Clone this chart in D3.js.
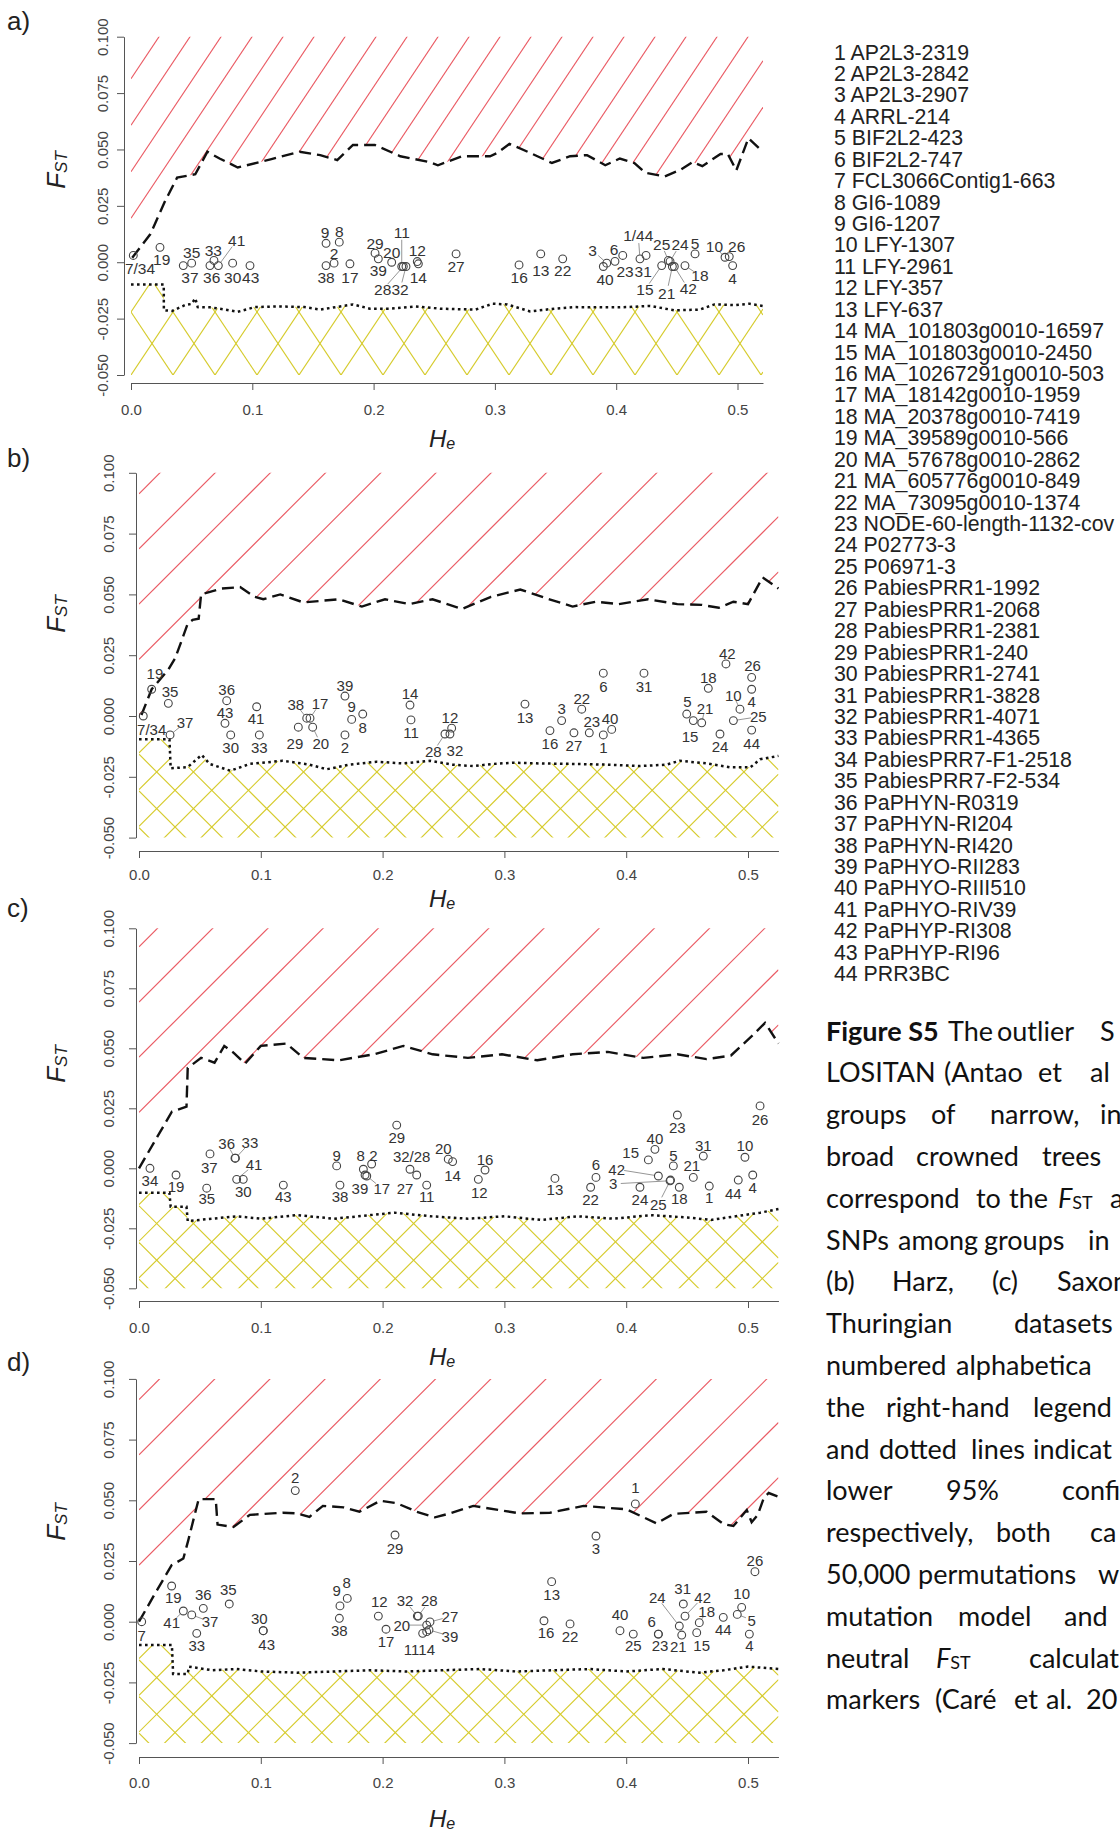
<!DOCTYPE html>
<html>
<head>
<meta charset="utf-8">
<script src="https://cdn.jsdelivr.net/npm/d3@7"></script>
<style>
  body { margin: 0; background: #fff; }
  svg { display: block; }
</style>
</head>
<body>
<svg id="fig" width="1120" height="1833"></svg>
<script>
// ---------- data ----------
const markerNames = [
  "AP2L3-2319","AP2L3-2842","AP2L3-2907","ARRL-214","BIF2L2-423","BIF2L2-747",
  "FCL3066Contig1-663","GI6-1089","GI6-1207","LFY-1307","LFY-2961","LFY-357","LFY-637",
  "MA_101803g0010-16597","MA_101803g0010-2450","MA_10267291g0010-503","MA_18142g0010-1959",
  "MA_20378g0010-7419","MA_39589g0010-566","MA_57678g0010-2862","MA_605776g0010-849",
  "MA_73095g0010-1374","NODE-60-length-1132-cov","P02773-3","P06971-3","PabiesPRR1-1992",
  "PabiesPRR1-2068","PabiesPRR1-2381","PabiesPRR1-240","PabiesPRR1-2741","PabiesPRR1-3828",
  "PabiesPRR1-4071","PabiesPRR1-4365","PabiesPRR7-F1-2518","PabiesPRR7-F2-534","PaPHYN-R0319",
  "PaPHYN-RI204","PaPHYN-RI420","PaPHYO-RII283","PaPHYO-RIII510","PaPHYO-RIV39",
  "PaPHYP-RI308","PaPHYP-RI96","PRR3BC"
];

const fstTicks = [0.100, 0.075, 0.050, 0.025, 0.000, -0.025, -0.050];
const heTicks = [0.0, 0.1, 0.2, 0.3, 0.4, 0.5];

// upper (dashed) and lower (dotted) 95% quantile curves: [He, Fst]
const upperA = [[0.001,0.002],[0.016,0.0125],[0.028,0.027],[0.038,0.0375],[0.053,0.039],[0.063,0.049],[0.073,0.046],[0.088,0.042],[0.115,0.0456],[0.139,0.049],[0.156,0.0475],[0.170,0.0453],[0.183,0.052],[0.201,0.052],[0.222,0.047],[0.246,0.0444],[0.253,0.043],[0.273,0.047],[0.296,0.047],[0.302,0.0485],[0.312,0.0525],[0.329,0.0485],[0.347,0.044],[0.362,0.047],[0.376,0.0475],[0.391,0.043],[0.403,0.046],[0.415,0.044],[0.424,0.0397],[0.440,0.038],[0.453,0.041],[0.463,0.0444],[0.471,0.0426],[0.486,0.048],[0.492,0.048],[0.499,0.0407],[0.509,0.055],[0.521,0.049]];
const lowerA = [[0,-0.0099],[0.027,-0.0099],[0.0271,-0.0213],[0.034,-0.0216],[0.0445,-0.019],[0.050,-0.0185],[0.053,-0.016],[0.055,-0.0199],[0.065,-0.020],[0.073,-0.0206],[0.088,-0.022],[0.102,-0.0199],[0.123,-0.0196],[0.143,-0.0199],[0.156,-0.021],[0.183,-0.0187],[0.197,-0.0206],[0.214,-0.0206],[0.234,-0.0196],[0.255,-0.0206],[0.284,-0.021],[0.298,-0.0184],[0.310,-0.0187],[0.329,-0.0218],[0.349,-0.0206],[0.366,-0.0199],[0.387,-0.020],[0.403,-0.020],[0.428,-0.0194],[0.448,-0.0213],[0.469,-0.021],[0.481,-0.0187],[0.498,-0.019],[0.510,-0.0184],[0.521,-0.0194]];

const upperB = [[0.002,0.0004],[0.0104,0.011],[0.024,0.019],[0.0296,0.0237],[0.035,0.031],[0.040,0.038],[0.044,0.0395],[0.049,0.040],[0.051,0.050],[0.068,0.0524],[0.083,0.053],[0.095,0.049],[0.102,0.048],[0.116,0.050],[0.135,0.0467],[0.164,0.048],[0.183,0.045],[0.202,0.048],[0.222,0.046],[0.241,0.048],[0.265,0.044],[0.289,0.049],[0.313,0.052],[0.337,0.048],[0.356,0.045],[0.375,0.047],[0.394,0.046],[0.418,0.048],[0.442,0.046],[0.462,0.0457],[0.476,0.0445],[0.488,0.047],[0.500,0.046],[0.512,0.057],[0.525,0.0524]];
const lowerB = [[0,-0.0096],[0.025,-0.0096],[0.026,-0.0215],[0.040,-0.021],[0.0515,-0.016],[0.058,-0.0197],[0.075,-0.0225],[0.091,-0.0197],[0.118,-0.0184],[0.140,-0.020],[0.154,-0.0219],[0.173,-0.020],[0.195,-0.0188],[0.217,-0.0195],[0.239,-0.0184],[0.2575,-0.020],[0.2745,-0.0206],[0.291,-0.0197],[0.307,-0.0192],[0.329,-0.0195],[0.356,-0.0197],[0.384,-0.020],[0.411,-0.0206],[0.433,-0.020],[0.444,-0.0184],[0.466,-0.0195],[0.485,-0.0211],[0.502,-0.0211],[0.510,-0.0178],[0.525,-0.0164]];

const upperC = [[0,0],[0.027,0.0236],[0.039,0.0257],[0.040,0.0418],[0.051,0.046],[0.062,0.044],[0.070,0.051],[0.078,0.048],[0.087,0.0436],[0.100,0.051],[0.121,0.052],[0.135,0.046],[0.164,0.045],[0.193,0.0475],[0.217,0.051],[0.241,0.0475],[0.270,0.046],[0.298,0.0475],[0.327,0.045],[0.356,0.0475],[0.385,0.0485],[0.414,0.046],[0.442,0.0475],[0.466,0.0455],[0.486,0.047],[0.505,0.056],[0.514,0.0606],[0.525,0.052]];
const lowerC = [[0,-0.0102],[0.025,-0.0102],[0.026,-0.016],[0.039,-0.016],[0.040,-0.022],[0.06,-0.021],[0.08,-0.020],[0.10,-0.021],[0.13,-0.0195],[0.16,-0.021],[0.19,-0.0195],[0.21,-0.0185],[0.24,-0.020],[0.27,-0.021],[0.30,-0.020],[0.33,-0.0215],[0.36,-0.020],[0.39,-0.021],[0.42,-0.0195],[0.45,-0.0205],[0.47,-0.0215],[0.49,-0.020],[0.51,-0.0185],[0.525,-0.017]];

const upperD = [[0,0],[0.0117,0.0103],[0.0268,0.0233],[0.0364,0.026],[0.0405,0.0336],[0.046,0.0446],[0.049,0.0505],[0.063,0.0505],[0.0645,0.040],[0.0775,0.039],[0.091,0.044],[0.118,0.0449],[0.1295,0.0446],[0.140,0.0432],[0.151,0.0477],[0.168,0.0471],[0.181,0.0453],[0.198,0.0498],[0.2116,0.0488],[0.228,0.0453],[0.243,0.043],[0.2553,0.0446],[0.2745,0.0477],[0.3128,0.0446],[0.3374,0.0449],[0.365,0.0477],[0.400,0.0463],[0.425,0.0405],[0.4387,0.0444],[0.466,0.0453],[0.480,0.0402],[0.488,0.0394],[0.494,0.043],[0.499,0.046],[0.503,0.041],[0.508,0.044],[0.513,0.051],[0.517,0.053],[0.525,0.0515]];
const lowerD = [[0,-0.0096],[0.027,-0.0096],[0.028,-0.0215],[0.040,-0.0215],[0.041,-0.0185],[0.06,-0.020],[0.08,-0.0195],[0.10,-0.0205],[0.13,-0.021],[0.16,-0.0205],[0.19,-0.020],[0.22,-0.0205],[0.25,-0.020],[0.28,-0.0195],[0.31,-0.0205],[0.34,-0.020],[0.37,-0.0195],[0.40,-0.0205],[0.43,-0.0195],[0.46,-0.021],[0.48,-0.020],[0.50,-0.0185],[0.525,-0.0195]];

// SNP markers: [label, He, Fst, label He, label Fst, leader line]
const pointsA = [
  ["7/34",0.0019,0.003,0.0074,-0.0029,0],["19",0.0239,0.0066,0.0253,0.0011,0],
  ["35",0.050,-0.0004,0.050,0.0044,0],["37",0.0431,-0.0015,0.0486,-0.0069,0],
  ["33",0.0684,0.0008,0.0679,0.0052,0],["36",0.0651,-0.0015,0.0665,-0.0069,0],
  ["41",0.072,-0.0015,0.0871,0.0096,1],["30",0.0838,-0.0004,0.0838,-0.0069,0],
  ["43",0.0981,-0.0015,0.0987,-0.0069,0],["9",0.1608,0.0084,0.160,0.0133,0],
  ["8",0.1717,0.0089,0.1717,0.0137,0],["2",0.1674,-0.0004,0.1674,0.004,0],
  ["38",0.1608,-0.0015,0.1608,-0.0069,0],["17",0.1805,-0.0007,0.1805,-0.0069,0],
  ["29",0.2012,0.004,0.2012,0.0084,0],["39",0.2039,0.0015,0.2039,-0.0037,0],
  ["20",0.2149,0.000,0.2149,0.0044,0],["11",0.2232,-0.0019,0.2232,0.0133,1],
  ["28",0.2245,-0.0019,0.2075,-0.0122,1],["32",0.2267,-0.0019,0.2218,-0.0122,1],
  ["12",0.236,0.0003,0.236,0.0052,0],["14",0.2369,-0.0007,0.2369,-0.0069,0],
  ["27",0.268,0.0037,0.268,-0.0019,0],["16",0.3199,-0.0012,0.320,-0.0069,0],
  ["13",0.3378,0.0037,0.3378,-0.0037,0],["22",0.3559,0.0015,0.3559,-0.0037,0],
  ["3",0.3922,-0.0004,0.3806,0.0052,1],["40",0.3894,-0.0019,0.3908,-0.0078,0],
  ["6",0.399,0.0004,0.3982,0.0055,0],["23",0.4054,0.003,0.4073,-0.004,0],
  ["1/44",0.4196,0.0015,0.4182,0.0118,1],["31",0.4246,0.003,0.4223,-0.004,0],
  ["15",0.4375,-0.0015,0.4237,-0.0122,1],["25",0.443,0.0008,0.4375,0.0078,1],
  ["24",0.4444,0.0004,0.4526,0.0078,1],["21",0.4463,-0.0019,0.4416,-0.0137,1],
  ["42",0.4479,-0.0019,0.4594,-0.0118,1],["18",0.4567,-0.0015,0.469,-0.0059,1],
  ["5",0.465,0.0037,0.465,0.0084,0],["10",0.4897,0.0022,0.481,0.007,1],
  ["26",0.4932,0.0025,0.4993,0.007,0],["4",0.496,-0.0015,0.496,-0.0074,0]
];
const pointsB = [
  ["7/34",0.0035,0.000,0.0104,-0.0055,0],["19",0.0104,0.011,0.0131,0.0176,0],
  ["35",0.0241,0.0052,0.0255,0.010,0],["37",0.0255,-0.0078,0.0378,-0.0028,1],
  ["36",0.072,0.0063,0.072,0.011,0],["43",0.0706,-0.003,0.0706,0.0014,0],
  ["30",0.0753,-0.0078,0.0753,-0.0129,0],["41",0.0966,0.0038,0.0961,-0.0009,0],
  ["33",0.0988,-0.0078,0.0988,-0.0129,0],["38",0.1377,-0.0009,0.1287,0.0049,1],
  ["17",0.1404,-0.0009,0.1486,0.0052,1],["29",0.1308,-0.0046,0.128,-0.0115,0],
  ["20",0.1426,-0.0046,0.1492,-0.0115,1],["39",0.1691,0.0082,0.1691,0.0127,0],
  ["9",0.1746,-0.0014,0.1746,0.0041,0],["8",0.1837,0.0008,0.1837,-0.0046,0],
  ["2",0.1691,-0.0078,0.1691,-0.0129,0],["14",0.2225,0.0045,0.2225,0.0093,0],
  ["11",0.2233,-0.0016,0.2233,-0.0069,0],["28",0.2512,-0.0074,0.2416,-0.0147,1],
  ["12",0.2567,-0.0050,0.2553,-0.0005,0],["32",0.2553,-0.0074,0.2594,-0.014,0],
  ["13",0.3169,0.0049,0.3169,-0.0005,0],["16",0.3374,-0.006,0.3374,-0.0115,0],
  ["3",0.347,-0.0019,0.347,0.0032,0],["22",0.3635,0.0028,0.3635,0.0073,0],
  ["27",0.3571,-0.0069,0.3571,-0.0123,0],["23",0.3697,-0.0069,0.3717,-0.0023,0],
  ["40",0.3881,-0.0055,0.3867,-0.0009,0],["1",0.3812,-0.0078,0.3812,-0.0129,0],
  ["6",0.3812,0.0176,0.3812,0.0123,0],["31",0.4146,0.0176,0.4146,0.0123,0],
  ["18",0.4674,0.0114,0.4674,0.0159,0],["42",0.4819,0.0214,0.483,0.0258,0],
  ["26",0.503,0.0159,0.5038,0.0206,0],["4",0.503,0.011,0.503,0.0059,0],
  ["10",0.4934,0.0028,0.4879,0.0086,1],["25",0.488,-0.0019,0.5085,-0.0003,1],
  ["5",0.4497,0.0008,0.4502,0.0059,0],["21",0.462,-0.0028,0.4647,0.0032,1],
  ["15",0.4551,-0.0019,0.4524,-0.0085,0],["24",0.477,-0.0074,0.477,-0.0126,0],
  ["44",0.503,-0.0058,0.503,-0.0112,0]
];
const pointsC = [
  ["34",0.009,0.000,0.009,-0.0049,0],["19",0.0304,-0.0028,0.0304,-0.0077,0],
  ["35",0.0556,-0.0083,0.0556,-0.0125,0],["37",0.0583,0.006,0.0577,0.0004,0],
  ["36",0.0788,0.0042,0.0720,0.0104,1],["33",0.0792,0.0042,0.0911,0.0107,1],
  ["41",0.0802,-0.0046,0.0944,0.0014,1],["30",0.0856,-0.0046,0.0856,-0.0098,0],
  ["43",0.1185,-0.007,0.1185,-0.0118,0],["9",0.1623,0.001,0.1623,0.0055,0],
  ["38",0.165,-0.007,0.165,-0.0118,0],["8",0.1842,-0.0004,0.182,0.0055,0],
  ["2",0.191,0.0018,0.1924,0.0055,0],["39",0.1856,-0.0028,0.1814,-0.0083,0],
  ["17",0.187,-0.0032,0.1993,-0.0083,1],["29",0.2116,0.018,0.2116,0.0129,0],
  ["32/28",0.2225,-0.0004,0.2239,0.0051,0],["27",0.228,-0.0028,0.2184,-0.0083,0],
  ["11",0.2362,-0.007,0.2362,-0.0118,0],["20",0.2539,0.0038,0.2498,0.0083,0],
  ["14",0.2575,0.0028,0.2575,-0.0028,0],["16",0.2841,-0.0007,0.2841,0.0038,0],
  ["12",0.2786,-0.0046,0.2794,-0.0102,0],["13",0.3415,-0.0042,0.3415,-0.009,0],
  ["6",0.3752,-0.0038,0.3752,0.0014,0],["22",0.3708,-0.0079,0.3708,-0.0132,0],
  ["42",0.4264,-0.0032,0.3922,-0.0004,1],["3",0.436,-0.0052,0.3894,-0.0065,1],
  ["15",0.4182,0.0035,0.4037,0.0065,0],["40",0.4236,0.0079,0.4236,0.0125,0],
  ["23",0.442,0.0222,0.442,0.0171,0],["5",0.4387,0.001,0.4387,0.0055,0],
  ["24",0.4113,-0.0079,0.4113,-0.0132,0],["25",0.4364,-0.0049,0.4264,-0.0149,1],
  ["18",0.4436,-0.0079,0.4436,-0.0125,0],["21",0.4551,-0.0038,0.4538,0.001,0],
  ["31",0.4633,0.0051,0.4633,0.0097,0],["1",0.4682,-0.0074,0.4682,-0.0121,0],
  ["10",0.4975,0.0046,0.4975,0.0093,0],["26",0.5099,0.026,0.5099,0.0204,0],
  ["44",0.492,-0.0049,0.4879,-0.0104,0],["4",0.5039,-0.0028,0.5039,-0.0079,0]
];
const pointsD = [
  ["7",0.0022,0.0,0.0022,-0.0055,0],["19",0.0268,0.0147,0.0282,0.010,0],
  ["41",0.0364,0.0044,0.0268,-0.0004,1],["37",0.0433,0.0028,0.0583,0.0,1],
  ["36",0.0528,0.0055,0.0528,0.0114,0],["35",0.0741,0.0073,0.0733,0.0133,0],
  ["33",0.0474,-0.0048,0.0474,-0.0096,0],["30",0.102,-0.0037,0.0988,0.0014,0],
  ["43",0.102,-0.0037,0.1048,-0.0092,0],["9",0.165,0.0065,0.1623,0.0128,0],
  ["8",0.171,0.0096,0.1705,0.0161,0],["38",0.1645,0.0014,0.1645,-0.0037,0],
  ["29",0.2102,0.0357,0.2102,0.0302,0],["12",0.1965,0.0023,0.1973,0.0082,0],
  ["17",0.2028,-0.0031,0.2028,-0.0082,0],["32",0.2285,0.0023,0.2184,0.0086,1],
  ["28",0.2293,0.0023,0.2383,0.0086,1],["20",0.2362,-0.0014,0.2157,-0.0014,1],
  ["11",0.2329,-0.0048,0.2238,-0.0114,0],["14",0.2362,-0.0041,0.2362,-0.0114,0],
  ["27",0.2389,-0.0001,0.2553,0.0021,1],["39",0.2381,-0.0034,0.2553,-0.0059,1],
  ["2",0.1283,0.054,0.1283,0.0595,0],["1",0.4075,0.0485,0.4075,0.0553,0],
  ["3",0.3752,0.0353,0.3752,0.0302,0],["26",0.5057,0.0206,0.5057,0.0254,0],
  ["13",0.3388,0.0165,0.3388,0.0114,0],["16",0.3325,0.0004,0.3342,-0.0045,0],
  ["22",0.3539,-0.0009,0.3539,-0.0059,0],["40",0.3949,-0.0037,0.3949,0.0028,0],
  ["25",0.4058,-0.0051,0.4058,-0.010,0],["6",0.4264,-0.0051,0.4209,0.0,0],
  ["23",0.4264,-0.0051,0.4278,-0.010,0],["24",0.4436,-0.0018,0.4255,0.010,1],
  ["31",0.4469,0.0073,0.4464,0.0138,0],["42",0.4483,0.0023,0.4628,0.010,1],
  ["21",0.4456,-0.0055,0.4428,-0.0103,0],["18",0.46,-0.0004,0.4661,0.0041,1],
  ["15",0.4579,-0.0045,0.462,-0.010,0],["44",0.4797,0.0018,0.4797,-0.0034,0],
  ["10",0.4948,0.0059,0.4948,0.0117,0],["5",0.4912,0.003,0.503,0.0007,1],
  ["4",0.5011,-0.0051,0.5011,-0.010,0]
];

// caption: each line is a list of words [text, x, style]; the column is justified
const captionLines = [
  [["Figure S5",826,"b"],["The",948],["outlier",997],["S",1100]],
  [["LOSITAN",826],["(Antao",944],["et",1038],["al",1090]],
  [["groups",826],["of",931],["narrow,",990],["in",1100]],
  [["broad",826],["crowned",916],["trees",1042]],
  [["correspond",826],["to",976],["the",1009],["FST",1058,"f"],["a",1110]],
  [["SNPs",826],["among",898],["groups",984],["in",1088]],
  [["(b)",826],["Harz,",892],["(c)",992],["Saxon",1057]],
  [["Thuringian",826],["datasets",1014]],
  [["numbered",826],["alphabetica",956]],
  [["the",826],["right-hand",886],["legend",1033]],
  [["and",826],["dotted",879],["lines",971],["indicat",1033]],
  [["lower",826],["95%",946],["confi",1062]],
  [["respectively,",826],["both",996],["ca",1090]],
  [["50,000",826],["permutations",918],["w",1098]],
  [["mutation",826],["model",958],["and",1064]],
  [["neutral",826],["FST",936,"f"],["calculat",1029]],
  [["markers",826],["(Caré",935],["et",1014],["al.",1046],["20",1086]]
];

// ---------- layout ----------
const SANS = '"Liberation Sans", Arial, Helvetica, sans-serif';
const RED = "#ea5b64", YEL = "#d6cb2c", INK = "#333";

const panels = [
  { letter: "a)", upper: upperA, lower: lowerA, pts: pointsA, x0: 131, ppu: 1213, heMax: 0.521,
    yTop: 36.7, yBot: 375, axisX: 124, axisY: 383, yLabX: 102, xLabY: 409, heY: 438, fstY: 170, letterY: 21,
    red: { m: 1.5, dx: 31, refFst: 0.0195 }, yel: { m: 1.5, dx: 42, refDx: 0, refFst: -0.05 }, lab: 15.5 },
  { letter: "b)", upper: upperB, lower: lowerB, pts: pointsB, x0: 139, ppu: 1218, heMax: 0.525,
    yTop: 472.8, yBot: 837.6, axisX: 136, axisY: 851, yLabX: 108, xLabY: 874, heY: 898, fstY: 614, letterY: 458,
    red: { m: 1, dx: 55.2, refFst: 0.0233 }, yel: { m: 1, dx: 36.7, refDx: 17.7, refFst: -0.023 }, lab: 15 },
  { letter: "c)", upper: upperC, lower: lowerC, pts: pointsC, x0: 139, ppu: 1218, heMax: 0.525,
    yTop: 928.3, yBot: 1288.3, axisX: 136, axisY: 1301, yLabX: 108, xLabY: 1327, heY: 1356, fstY: 1064, letterY: 908,
    red: { m: 1, dx: 55.2, refFst: 0.0233 }, yel: { m: 1, dx: 36.7, refDx: 17.7, refFst: -0.023 }, lab: 15 },
  { letter: "d)", upper: upperD, lower: lowerD, pts: pointsD, x0: 139, ppu: 1218, heMax: 0.525,
    yTop: 1378.9, yBot: 1743.1, axisX: 136, axisY: 1757, yLabX: 108, xLabY: 1782, heY: 1818, fstY: 1522, letterY: 1362,
    red: { m: 1, dx: 55.2, refFst: 0.0233 }, yel: { m: 1, dx: 36.7, refDx: 17.7, refFst: -0.023 }, lab: 15 }
];

const svg = d3.select("#fig");
const defs = svg.append("defs");
const fmtFst = d3.formatLocale({ decimal: ".", thousands: ",", grouping: [3], currency: ["", ""], minus: "-" }).format(".3f");
const fmtHe = d3.format(".1f");

// parallel hatch lines y = refY - dir*m*(x - refX) + k*m*dx, clipped by the region
function hatch(g, box, refX, refY, m, dx, dir, color) {
  const step = m * dx;
  const ya = refY - dir * m * (box.x0 - refX);
  const yb = refY - dir * m * (box.x1 - refX);
  const kMin = Math.floor((box.y0 - Math.max(ya, yb)) / step) - 1;
  const kMax = Math.ceil((box.y1 - Math.min(ya, yb)) / step) + 1;
  g.append("g").selectAll("line").data(d3.range(kMin, kMax + 1)).join("line")
    .attr("x1", box.x0).attr("x2", box.x1)
    .attr("y1", k => ya + k * step).attr("y2", k => yb + k * step)
    .attr("stroke", color).attr("stroke-width", 1.15);
}

panels.forEach((p, i) => {
  const x = d3.scaleLinear().domain([0, p.heMax]).range([p.x0, p.x0 + p.heMax * p.ppu]);
  const y = d3.scaleLinear().domain([-0.05, 0.1]).range([p.yBot, p.yTop]);
  const g = svg.append("g").attr("class", "panel");
  const box = { x0: x(0), x1: x(p.heMax), y0: y(0.1), y1: y(-0.05) };
  const line = d3.line().x(d => x(d[0])).y(d => y(d[1]));

  // outlier region above the upper quantile, balancing region below the lower one
  const u = p.upper, l = p.lower;
  const upperPoly = [[0, 0.1], [0, u[0][1]], ...u, [p.heMax, u[u.length - 1][1]], [p.heMax, 0.1]];
  const lowerPoly = [[0, -0.05], [0, l[0][1]], ...l, [p.heMax, l[l.length - 1][1]], [p.heMax, -0.05]];
  defs.append("clipPath").attr("id", "up" + i).append("path").attr("d", line(upperPoly) + "Z");
  defs.append("clipPath").attr("id", "lo" + i).append("path").attr("d", line(lowerPoly) + "Z");

  const gr = g.append("g").attr("clip-path", `url(#up${i})`);
  hatch(gr, box, x(0), y(p.red.refFst), p.red.m, p.red.dx, 1, RED);
  const gy = g.append("g").attr("clip-path", `url(#lo${i})`);
  hatch(gy, box, x(0) + p.yel.refDx, y(p.yel.refFst), p.yel.m, p.yel.dx, 1, YEL);
  hatch(gy, box, x(0) + p.yel.refDx, y(p.yel.refFst), p.yel.m, p.yel.dx, -1, YEL);

  // quantile curves
  g.append("path").attr("d", line(u)).attr("fill", "none").attr("stroke", "#111")
    .attr("stroke-width", 2.4).attr("stroke-dasharray", "12,6");
  g.append("path").attr("d", line(l)).attr("fill", "none").attr("stroke", "#111")
    .attr("stroke-width", 2.5).attr("stroke-dasharray", "2.6,3.4");

  // leader lines
  const lead = p.pts.filter(d => d[5]);
  g.append("g").selectAll("line").data(lead).join("line")
    .each(function (d) {
      const px = x(d[1]), py = y(d[2]), lx = x(d[3]), ly = y(d[4]);
      const dxv = px - lx, dyv = py - ly, len = Math.hypot(dxv, dyv) || 1;
      const s0 = Math.min(7.5, len * 0.4), s1 = 4;
      d3.select(this)
        .attr("x1", lx + dxv / len * s0).attr("y1", ly + dyv / len * s0)
        .attr("x2", px - dxv / len * s1).attr("y2", py - dyv / len * s1);
    })
    .attr("stroke", "#8a8a8a").attr("stroke-width", 0.9);

  // markers
  g.append("g").selectAll("circle").data(p.pts).join("circle")
    .attr("cx", d => x(d[1])).attr("cy", d => y(d[2])).attr("r", 3.9)
    .attr("fill", "none").attr("stroke", "#444").attr("stroke-width", 1.1);
  g.append("g").selectAll("text").data(p.pts).join("text")
    .attr("x", d => x(d[3])).attr("y", d => y(d[4]))
    .attr("text-anchor", "middle").attr("dominant-baseline", "central")
    .attr("font-family", SANS).attr("font-size", p.lab).attr("fill", INK)
    .text(d => d[0]);

  // axes
  const ya = g.append("g").attr("transform", `translate(${p.axisX},0)`)
    .call(d3.axisLeft(y).tickValues(fstTicks).tickFormat(fmtFst).tickSize(7).tickSizeOuter(0));
  const xa = g.append("g").attr("transform", `translate(0,${p.axisY})`)
    .call(d3.axisBottom(x).tickValues(heTicks).tickFormat(fmtHe).tickSize(7).tickSizeOuter(0));
  [ya, xa].forEach(a => {
    a.attr("font-family", SANS).attr("font-size", 15);
    a.select(".domain").attr("stroke", "#555");
    a.selectAll(".tick line").attr("stroke", "#555");
    a.selectAll(".tick text").attr("fill", "#444");
  });
  ya.selectAll(".tick text")
    .attr("x", 0).attr("dy", null).attr("dominant-baseline", "central").attr("text-anchor", "middle")
    .attr("transform", `translate(${p.yLabX - p.axisX},0) rotate(-90)`);
  xa.selectAll(".tick text").attr("y", p.xLabY - p.axisY).attr("dy", null).attr("dominant-baseline", "central");

  // axis titles
  const he = g.append("text").attr("x", 442).attr("y", p.heY).attr("text-anchor", "middle")
    .attr("dominant-baseline", "central").attr("font-family", SANS).attr("font-size", 24)
    .attr("font-style", "italic").attr("fill", "#222");
  he.append("tspan").text("H");
  he.append("tspan").attr("font-size", 16).attr("dy", 5).text("e");
  const fst = g.append("text").attr("transform", `translate(56,${p.fstY}) rotate(-90)`)
    .attr("text-anchor", "middle").attr("dominant-baseline", "central").attr("font-family", SANS)
    .attr("font-size", 26).attr("font-style", "italic").attr("fill", "#222");
  fst.append("tspan").text("F");
  fst.append("tspan").attr("font-size", 17).attr("dy", 5).text("ST");

  // panel letter
  g.append("text").attr("x", 7).attr("y", p.letterY).attr("dominant-baseline", "central")
    .attr("font-family", SANS).attr("font-size", 26).attr("fill", "#222").text(p.letter);
});

// ---------- marker legend ----------
svg.append("g").selectAll("text").data(markerNames).join("text")
  .attr("x", 834).attr("y", (d, i) => 52.6 + i * 21.43)
  .attr("dominant-baseline", "central").attr("font-family", SANS).attr("font-size", 21.3)
  .attr("fill", "#222").text((d, i) => `${i + 1} ${d}`);

// ---------- caption ----------
const cap = svg.append("g").attr("font-family", "Lato, 'Open Sans', sans-serif").attr("font-size", 27).attr("fill", "#111");
captionLines.forEach((words, li) => {
  const yy = 1030 + li * 41.8;
  words.forEach(w => {
    const t = cap.append("text").attr("x", w[1]).attr("y", yy).attr("dominant-baseline", "central");
    if (w[2] === "b") t.attr("font-weight", "bold").text(w[0]);
    else if (w[2] === "f") {
      t.append("tspan").attr("font-style", "italic").text("F");
      t.append("tspan").attr("font-size", 18).attr("dy", 5).text("ST");
    } else t.text(w[0]);
  });
});
</script>
</body>
</html>
